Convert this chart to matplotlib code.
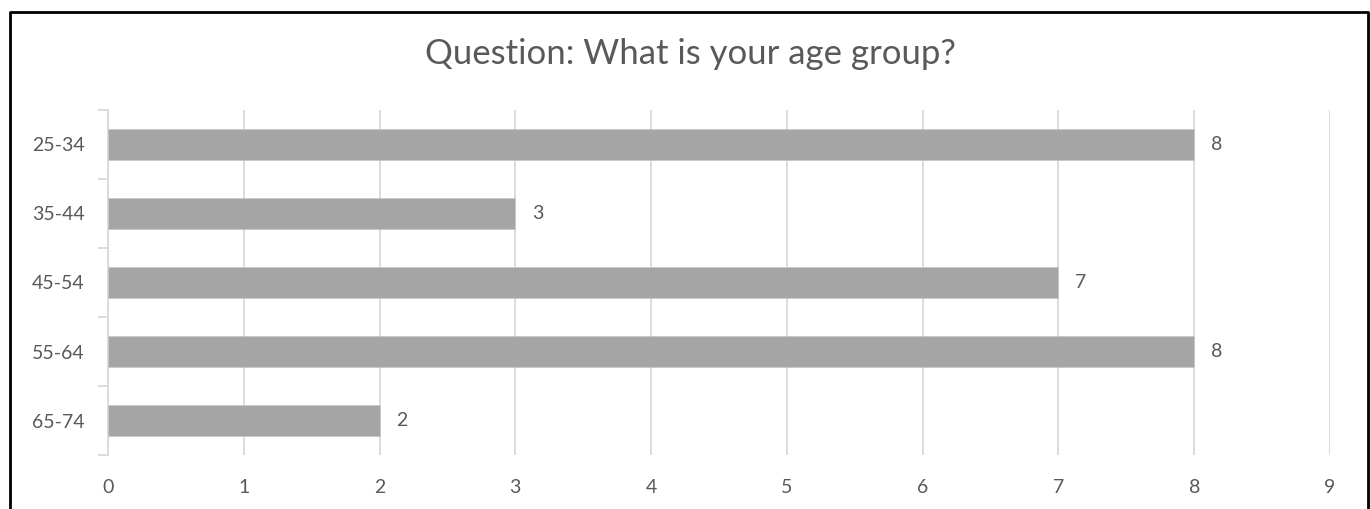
import matplotlib.pyplot as plt
from matplotlib.lines import Line2D

plt.rcParams['font.family'] = ['Lato', 'DejaVu Sans']

# data
categories = ['25-34', '35-44', '45-54', '55-64', '65-74']
counts = [8, 3, 7, 8, 2]
xticks = list(range(0, 10))

textcol = '#595959'
gridcol = '#D9D9D9'
barcol = '#A5A5A5'

fig = plt.figure(figsize=(13.7, 5.09), dpi=100)
ax = fig.add_axes([0.0788, 0.106, 0.892, 0.678])

ypos = list(range(len(categories)))
ax.barh(ypos, counts, height=0.44, color=barcol, edgecolor='#C8C8C8', linewidth=0.6, zorder=3)
for y, v in zip(ypos, counts):
    ax.annotate(str(v), (v, y), xytext=(12, 0), textcoords='offset points',
                va='center', ha='left', fontsize=14, color=textcol)

ax.set_xlim(0, 9)
ax.set_ylim(len(categories) - 0.5, -0.5)
ax.set_xticks(xticks)
ax.set_yticks(ypos)
ax.set_yticklabels(categories)
ax.grid(axis='x', color=gridcol, linewidth=1.3, zorder=0)

# category-boundary ticks on the left axis
ax.set_yticks([i - 0.5 for i in range(len(categories) + 1)], minor=True)
ax.tick_params(axis='y', which='major', length=0, pad=17, labelsize=14, labelcolor=textcol)
ax.tick_params(axis='y', which='minor', length=7, color=gridcol, width=1.3)
ax.tick_params(axis='x', length=0, pad=17, labelsize=14, labelcolor=textcol)

for s in ['top', 'right', 'bottom']:
    ax.spines[s].set_visible(False)
ax.spines['left'].set_color(gridcol)
ax.spines['left'].set_linewidth(1.3)

fig.text(0.5037, 0.894, 'Question: What is your age group?', ha='center', va='center',
         fontsize=25, color=textcol)

# outer frame (no bottom edge)
H = 509.0
W = 1370.0
x0, x1 = 9.5 / W, 1367.5 / W
ytop = 1 - 11.5 / H
fig.add_artist(Line2D([x0, x0, x1, x1], [0, ytop, ytop, 0], color='black', linewidth=2,
                      transform=fig.transFigure))

fig.savefig('out.png', dpi=100)
